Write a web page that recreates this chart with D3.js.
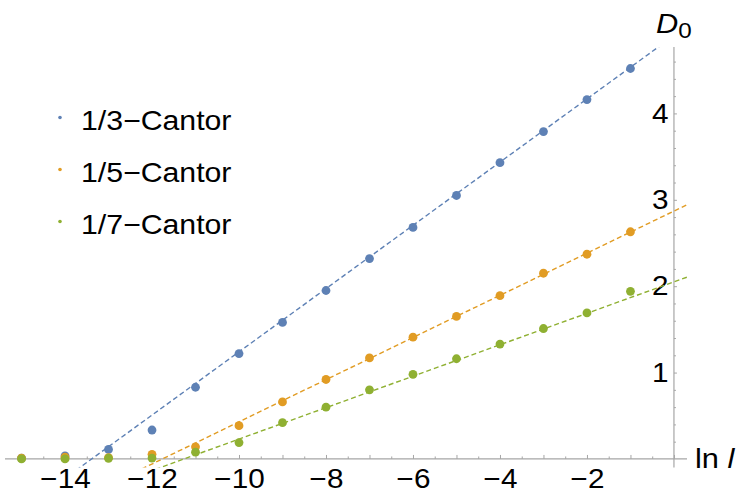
<!DOCTYPE html>
<html>
<head>
<meta charset="utf-8">
<script src="https://cdn.jsdelivr.net/npm/d3@7"></script>
<style>
  html, body { margin: 0; padding: 0; background: #fff; }
  svg { display: block; font-family: "Liberation Sans", Arial, sans-serif; }
</style>
</head>
<body>
<svg id="chart" width="737" height="490"></svg>
<script>
// ---- data ----
const lnL = [-15, -14, -13, -12, -11, -10, -9, -8, -7, -6, -5, -4, -3, -2, -1];
const cantor3 = [0.01, 0.035, 0.11, 0.335, 0.83, 1.22, 1.58, 1.95, 2.32, 2.68, 3.05, 3.43, 3.79, 4.16, 4.52];
const cantor5 = [0.01, 0.02, 0.015, 0.054, 0.14, 0.385, 0.66, 0.92, 1.17, 1.41, 1.65, 1.89, 2.15, 2.37, 2.63];
const cantor7 = [0.0, 0.0, 0.008, 0.01, 0.078, 0.19, 0.42, 0.6, 0.8, 0.98, 1.16, 1.33, 1.51, 1.69, 1.94];
const seriesNames = ["1/3\u2212Cantor", "1/5\u2212Cantor", "1/7\u2212Cantor"];
const fitSlopes = [0.366, 0.244, 0.182];
const fitIntercepts = [4.90, 2.87, 2.05];
const xTickLabels = [-14, -12, -10, -8, -6, -4, -2];
const yTickLabels = [1, 2, 3, 4];
const colors = ["#5E81B5", "#E19C24", "#8FB032"];

const svg = d3.select("#chart");
const xDomain = [-15.38, 0.3], yDomain = [-0.1, 4.77];
const x = d3.scaleLinear().domain(xDomain).range([5, 687]);
const y = d3.scaleLinear().domain(yDomain).range([467.6, 46.9]);
const SX = 1.1; // horizontal text stretch of reference
const minus = v => String(v).replace("-", "\u2212");

// clip for fit lines
svg.append("defs").append("clipPath").attr("id", "plotclip")
  .append("rect").attr("x", x(xDomain[0])).attr("y", y(yDomain[1]))
  .attr("width", x(xDomain[1]) - x(xDomain[0])).attr("height", y(yDomain[0]) - y(yDomain[1]));

// ---- axes ----
const axisColor = "#a6a6a6";
const xMinor = d3.range(-15, 0.01, 0.5);
const gxMinor = svg.append("g").attr("transform", `translate(0,${y(0)})`)
  .call(d3.axisBottom(x).tickValues(xMinor.filter(v => v % 1 !== 0)).tickSize(-2.5).tickFormat(""));
const gxMajor = svg.append("g").attr("transform", `translate(0,${y(0)})`)
  .call(d3.axisBottom(x).tickValues(d3.range(-15, 0.01, 1)).tickSize(-4)
    .tickFormat(d => xTickLabels.includes(d) ? minus(d) : "").tickPadding(10));
[gxMinor, gxMajor].forEach(g => {
  g.select(".domain").remove();
  g.selectAll("line").attr("stroke", axisColor);
});
gxMajor.selectAll("text").attr("font-size", 27).attr("fill", "#000")
  .attr("font-family", "Liberation Sans, Arial, sans-serif")
  .attr("transform", `scale(${SX},1)`);

const gyMinor = svg.append("g").attr("transform", `translate(${x(0)},0)`)
  .call(d3.axisLeft(y).tickValues(d3.range(0.2, 4.75, 0.2).filter(v => Math.abs(v - Math.round(v)) > 0.01)).tickSize(-2).tickFormat(""));
const gyMajor = svg.append("g").attr("transform", `translate(${x(0)},0)`)
  .call(d3.axisLeft(y).tickValues(yTickLabels).tickSize(-3).tickPadding(5).tickFormat(d3.format("d")));
[gyMinor, gyMajor].forEach(g => {
  g.select(".domain").remove();
  g.selectAll("line").attr("stroke", axisColor);
});
gyMajor.selectAll("text").attr("font-size", 27).attr("fill", "#000")
  .attr("font-family", "Liberation Sans, Arial, sans-serif")
  .attr("transform", `scale(${SX},1)`);

// axis lines
svg.append("line").attr("x1", x(xDomain[0])).attr("x2", x(xDomain[1]))
  .attr("y1", y(0)).attr("y2", y(0)).attr("stroke", axisColor).attr("stroke-width", 1.2);
svg.append("line").attr("x1", x(0)).attr("x2", x(0))
  .attr("y1", y(yDomain[0])).attr("y2", y(yDomain[1])).attr("stroke", axisColor).attr("stroke-width", 1.2);

// axis labels
const dl = svg.append("text").attr("transform", `translate(656,33) scale(${SX},1)`)
  .attr("font-size", 28).attr("fill", "#000");
dl.append("tspan").attr("font-style", "italic").text("D");
dl.append("tspan").attr("font-size", 22).attr("dy", 5).text("0");

const ll = svg.append("text").attr("transform", `translate(695,468) scale(${SX},1)`)
  .attr("font-size", 28).attr("fill", "#000");
ll.append("tspan").text("ln ");
ll.append("tspan").attr("font-style", "italic").text("l");

// ---- data points ----
const allSeries = [cantor3, cantor5, cantor7];
allSeries.forEach((vals, i) => {
  svg.append("g").selectAll("circle").data(vals).join("circle")
    .attr("cx", (d, j) => x(lnL[j])).attr("cy", d => y(d))
    .attr("r", 4.4).attr("fill", colors[i]);
});

// ---- fit lines ----
const lineGen = d3.line().x(d => x(d[0])).y(d => y(d[1]));
fitSlopes.forEach((m, i) => {
  const pts = xDomain.map(v => [v, m * v + fitIntercepts[i]]);
  svg.append("path").attr("d", lineGen(pts)).attr("clip-path", "url(#plotclip)")
    .attr("fill", "none").attr("stroke", colors[i]).attr("stroke-width", 1.4)
    .attr("stroke-dasharray", "5,3");
});

// ---- legend ----
const legend = svg.append("g");
seriesNames.forEach((name, i) => {
  const by = 130 + i * 52;
  legend.append("circle").attr("cx", 60).attr("cy", by - 12.5).attr("r", 1.8).attr("fill", colors[i]);
  legend.append("text").attr("transform", `translate(81,${by}) scale(${SX},1)`)
    .attr("font-size", 27.5).attr("fill", "#000").text(name);
});
</script>
</body>
</html>
